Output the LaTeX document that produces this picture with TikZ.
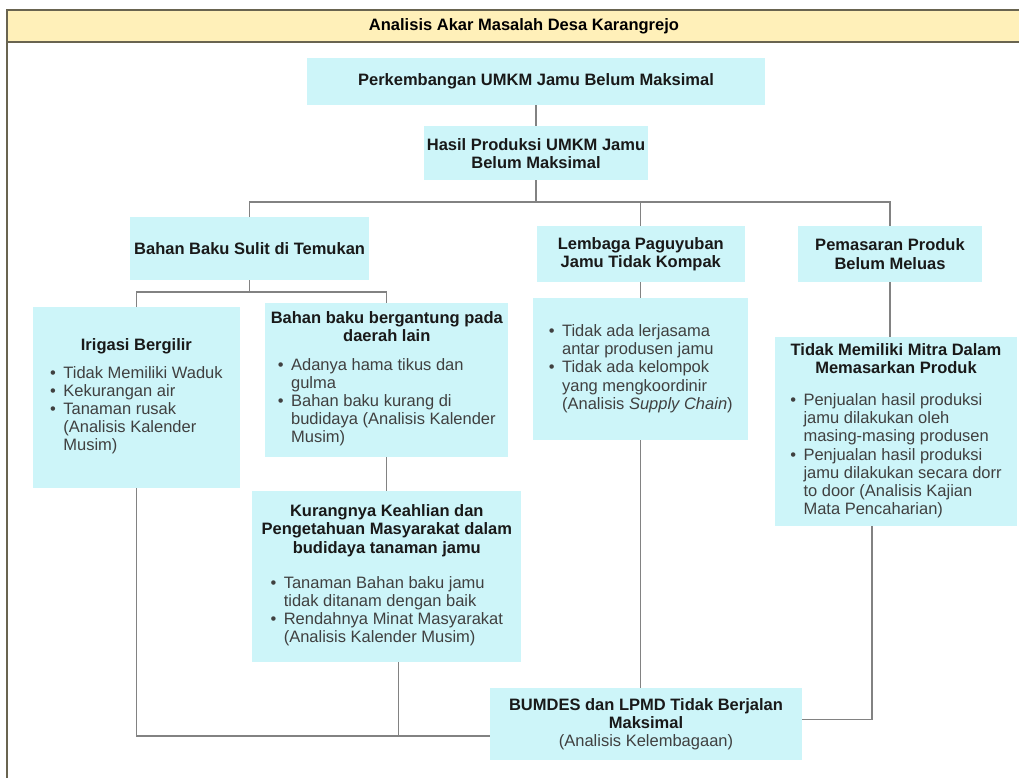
\documentclass[tikz,border=0pt]{standalone}
\usepackage{fontspec}
\setmainfont{Liberation Sans}
\usetikzlibrary{calc}

\definecolor{boxcyan}{RGB}{205,245,249}
\definecolor{bannerfill}{RGB}{255,240,185}
\definecolor{framegray}{RGB}{105,100,80}
\definecolor{linegray}{RGB}{130,130,130}

\newcommand{\itm}{\makebox[0.8em][l]{\textbullet}}
\newcommand{\cnt}{\hspace*{0.8em}}
\newcommand{\hd}[1]{\textbf{\color{black!90}#1}}
\newcommand{\blist}[1]{\begin{tabular}[t]{@{}l@{}}#1\end{tabular}}

\tikzset{
  box/.style={fill=boxcyan, inner sep=0pt, align=center, text=black!75,
    font=\fontsize{11.74}{12.95}\selectfont},
  conn/.style={draw=linegray, line width=0.9pt},
}

\begin{document}
\begin{tikzpicture}
  \useasboundingbox (0,0) rectangle (25.475,-19.45);
  \fill[bannerfill] (0.175,-0.25) rectangle (25.475,-1.05);
  \draw[framegray, line width=1.4pt] (25.475,-0.25) -- (0.175,-0.25) -- (0.175,-19.45);
  \draw[framegray, line width=1.4pt] (0.175,-1.05) -- (25.475,-1.05);
  \node[font=\fontsize{11.74}{12.95}\selectfont\bfseries] (h) at (13.1,-0.65) {Analisis Akar Masalah Desa Karangrejo};

  \node[box, minimum width=11.43cm, minimum height=1.18cm] (0) at (13.4,-2.04)
    {\hd{Perkembangan UMKM Jamu Belum Maksimal}};
  \node[box, minimum width=5.6cm, minimum height=1.35cm] (1) at (13.4,-3.83)
    {\hd{Hasil Produksi UMKM Jamu}\\ \hd{Belum Maksimal}};
  \node[box, minimum width=5.98cm, minimum height=1.58cm] (2) at (6.24,-6.21)
    {\hd{Bahan Baku Sulit di Temukan}};
  \node[box, minimum width=5.2cm, minimum height=1.4cm] (3) at (16.02,-6.35)
    {\hd{Lembaga Paguyuban}\\ \hd{Jamu Tidak Kompak}};
  \node[box, minimum width=4.6cm, minimum height=1.4cm] (4) at (22.25,-6.35)
    {\hd{Pemasaran Produk}\\ \hd{Belum Meluas}};
  \node[box, minimum width=5.18cm, minimum height=4.53cm] (5) at (3.41,-9.94)
    {\hd{Irigasi Bergilir}\\[6.4pt]
     \blist{\itm Tidak Memiliki Waduk\\ \itm Kekurangan air\\ \itm Tanaman rusak\\
       \cnt (Analisis Kalender\\ \cnt Musim)}};
  \node[box, minimum width=6.08cm, minimum height=3.85cm] (6) at (9.67,-9.5)
    {\hd{Bahan baku bergantung pada}\\ \hd{daerah lain}\\[7.1pt]
     \blist{\itm Adanya hama tikus dan\\ \cnt gulma\\ \itm Bahan baku kurang di\\
       \cnt budidaya (Analisis Kalender\\ \cnt Musim)}};
  \node[box, minimum width=5.38cm, minimum height=3.55cm] (7) at (16.02,-9.23)
    {\blist{\itm Tidak ada lerjasama\\ \cnt antar produsen jamu\\ \itm Tidak ada kelompok\\
       \cnt yang mengkoordinir\\ \cnt (Analisis \textit{Supply Chain})}};
  \node[box, minimum width=6.05cm, minimum height=4.73cm] (8) at (22.4,-10.79)
    {\hd{Tidak Memiliki Mitra Dalam}\\ \hd{Memasarkan Produk}\\[10pt]
     \blist{\itm Penjualan hasil produksi\\ \cnt jamu dilakukan oleh\\ \cnt masing-masing produsen\\
       \itm Penjualan hasil produksi\\ \cnt jamu dilakukan secara dorr\\
       \cnt to door (Analisis Kajian\\ \cnt Mata Pencaharian)}};
  \node[box, minimum width=6.73cm, minimum height=4.28cm] (9) at (9.67,-14.41)
    {\hd{Kurangnya Keahlian dan}\\ \hd{Pengetahuan Masyarakat dalam}\\ \hd{budidaya tanaman jamu}\\[12pt]
     \blist{\itm Tanaman Bahan baku jamu\\ \cnt tidak ditanam dengan baik\\
       \itm Rendahnya Minat Masyarakat\\ \cnt (Analisis Kalender Musim)}};
  \node[box, minimum width=7.8cm, minimum height=1.8cm] (10) at (16.15,-18.1)
    {\hd{BUMDES dan LPMD Tidak Berjalan}\\ \hd{Maksimal}\\ (Analisis Kelembagaan)};

  \coordinate (b1) at (13.4,-5.05);
  \coordinate (b2) at (6.24,-7.3);
  \coordinate (b3) at ([yshift=-0.3cm]10.west);
  \coordinate (b4) at ([yshift=0.12cm]10.east);
  \coordinate (e1) at ([xshift=0.3cm]9.south);
  \coordinate (f1) at ([xshift=-0.6cm]8.south);
  \draw[conn] (0)--(1);
  \draw[conn] (1.south)--(b1);
  \draw[conn] (2.north) |- (b1) -| (4.north);
  \draw[conn] (3.north)--(3.north |- b1);
  \draw[conn] (2.south)--(b2);
  \draw[conn] (5.north) |- (b2) -| (6.north);
  \draw[conn] (3.south)--(7.north);
  \draw[conn] (4.south)--(4.south |- 8.north);
  \draw[conn] (6.south)--(9.north);
  \draw[conn] (7.south)--(7.south |- 10.north);
  \draw[conn] (5.south) |- (b3);
  \draw[conn] (e1)--(e1 |- b3);
  \draw[conn] (f1) |- (b4);
\end{tikzpicture}
\end{document}
